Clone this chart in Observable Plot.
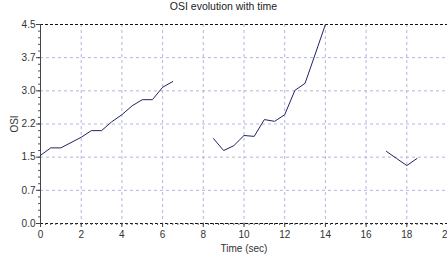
<!DOCTYPE html>
<html>
<head>
<meta charset="utf-8">
<script src="https://cdn.jsdelivr.net/npm/d3@7"></script>
<script src="https://cdn.jsdelivr.net/npm/@observablehq/plot@0.6"></script>
<style>
  body { margin: 0; background: #fff; }
  #title { width: 447px; height: 18px; line-height: 20px; text-align: center;
    font: 10.5px "Liberation Sans", Arial, sans-serif; color: #222; }
</style>
</head>
<body>
<div id="title">OSI evolution with time</div>
<div id="chart"></div>
<script>
const titleText = "OSI evolution with time";
const xLabel = "Time (sec)";
const yLabel = "OSI";

// time in seconds (null = gap in recording)
const time = [0, 0.5, 1, 1.5, 2, 2.5, 3, 3.5, 4, 4.5, 5, 5.5, 6, 6.5, null,
  8.5, 9, 9.5, 10, 10.5, 11, 11.5, 12, 12.5, 13, 13.5, 14, null,
  17, 17.5, 18, 18.5];
const osi = [1.54, 1.71, 1.71, 1.83, 1.95, 2.1, 2.1, 2.3, 2.46, 2.66, 2.8, 2.8, 3.08, 3.21, null,
  1.92, 1.65, 1.76, 1.99, 1.97, 2.35, 2.31, 2.46, 3.01, 3.17, 3.83, 4.5, null,
  1.63, 1.47, 1.31, 1.47];

const xTicks = [0, 2, 4, 6, 8, 10, 12, 14, 16, 18, 20];
const xTickLabels = ["0", "2", "4", "6", "8", "10", "12", "14", "16", "18", "20"];
const yTicks = [0, 0.75, 1.5, 2.25, 3, 3.75, 4.5];
const yTickLabels = ["0.0", "0.7", "1.5", "2.2", "3.0", "3.7", "4.5"];

const xMinor = d3.range(0, 20.001, 0.25);
const yMinor = d3.range(0, 4.5001, 0.15);

const gridStyle = {stroke: "#b4b4e0", strokeDasharray: "3,3", strokeOpacity: 1, strokeWidth: 1};

const chart = Plot.plot({
  width: 447,
  height: 238,
  marginTop: 6,
  marginBottom: 33,
  marginLeft: 40,
  marginRight: 0,
  style: {fontFamily: '"Liberation Sans", Arial, sans-serif', fontSize: "10px", color: "#333", background: "#fff"},
  x: {domain: [0, 20]},
  y: {domain: [0, 4.5]},
  marks: [
    Plot.gridX(xTicks.slice(1), gridStyle),
    Plot.gridY(yTicks.slice(1, -1), gridStyle),
    Plot.ruleY([yTicks[yTicks.length - 1]], {stroke: "#111", strokeDasharray: "3,2"}),
    Plot.ruleY([yTicks[0]], {stroke: "#111", strokeDasharray: "3,2"}),
    Plot.axisX(xMinor, {tickSize: 2, tickFormat: () => "", label: null, stroke: "#555"}),
    Plot.axisY(yMinor, {tickSize: 2, tickFormat: () => "", label: null, stroke: "#555"}),
    Plot.axisX(xTicks, {tickSize: 4, tickPadding: 3, tickFormat: (d, i) => xTickLabels[i],
      label: xLabel, labelAnchor: "center", labelOffset: 28, labelArrow: false, stroke: "#444"}),
    Plot.axisY(yTicks, {tickSize: 4, tickPadding: 1, tickFormat: (d, i) => yTickLabels[i],
      label: yLabel, labelAnchor: "center", labelOffset: 30, labelArrow: false, stroke: "#444"}),
    Plot.ruleX([0], {stroke: "#444"}),
    Plot.line(time, {x: time, y: osi, stroke: "#23235f", strokeWidth: 1})
  ]
});
document.getElementById("chart").appendChild(chart);
</script>
</body>
</html>
